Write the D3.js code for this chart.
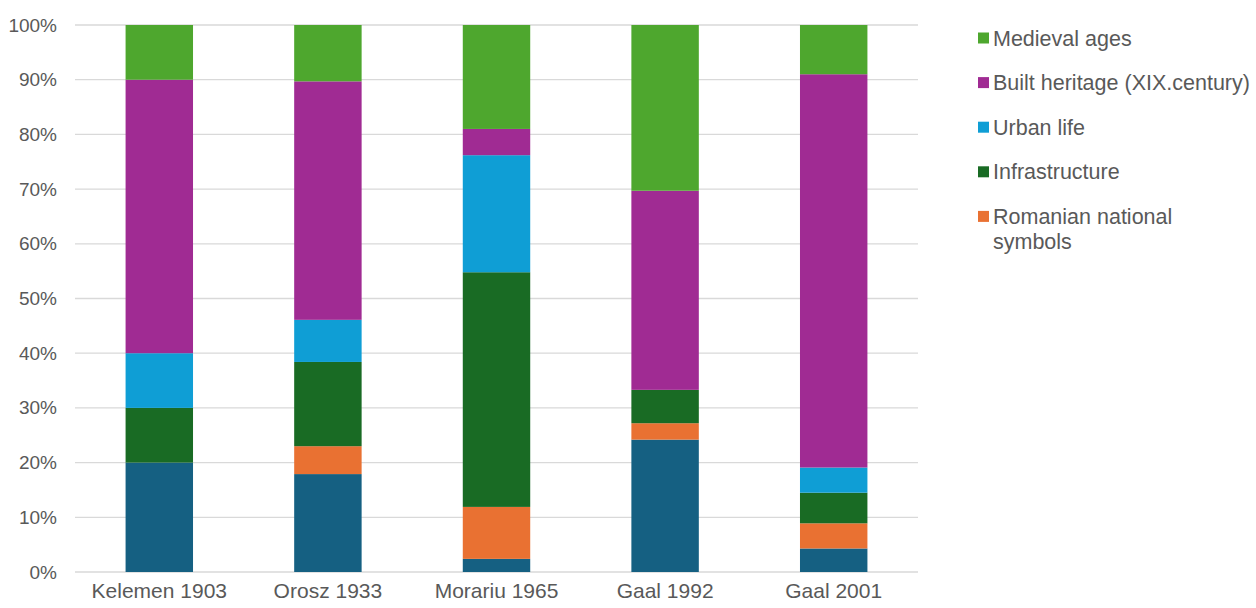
<!DOCTYPE html>
<html>
<head>
<meta charset="utf-8">
<script src="https://cdn.jsdelivr.net/npm/d3@7"></script>
<style>
  html, body { margin: 0; padding: 0; background: #fff; }
  svg { display: block; font-family: "Liberation Sans", Arial, sans-serif; }
</style>
</head>
<body>
<svg id="chart" width="1256" height="608"></svg>
<script>
const categories = ["Kelemen 1903", "Orosz 1933", "Morariu 1965", "Gaal 1992", "Gaal 2001"];
const seriesNames = ["Other", "Romanian national symbols", "Infrastructure", "Urban life", "Built heritage (XIX.century)", "Medieval ages"];
const other       = [20.0, 17.9, 2.4, 24.2, 4.3];
const romanian    = [0.0, 5.1, 9.5, 3.0, 4.6];
const infrastr    = [10.0, 15.4, 42.9, 6.1, 5.6];
const urbanLife   = [10.0, 7.7, 21.4, 0.0, 4.6];
const builtHerit  = [50.0, 43.6, 4.8, 36.4, 71.9];
const medieval    = [10.0, 10.3, 19.0, 30.3, 9.0];
const yTicks = [0, 10, 20, 30, 40, 50, 60, 70, 80, 90, 100];
const legendNames = ["Medieval ages", "Built heritage (XIX.century)", "Urban life", "Infrastructure", "Romanian national symbols"];

const colors = {
  "Other": "#156082",
  "Romanian national symbols": "#e97132",
  "Infrastructure": "#196b24",
  "Urban life": "#0f9ed5",
  "Built heritage (XIX.century)": "#a02b93",
  "Medieval ages": "#4ea72e"
};

const seriesArrays = [other, romanian, infrastr, urbanLife, builtHerit, medieval];
const rows = categories.map((c, i) => {
  const r = { cat: c };
  seriesNames.forEach((s, j) => r[s] = seriesArrays[j][i]);
  return r;
});
const stacked = d3.stack().keys(seriesNames)(rows);

const svg = d3.select("#chart");
const plotLeft = 75, plotRight = 918, plotTop = 25, plotBottom = 572;

const x = d3.scaleBand().domain(categories).range([plotLeft, plotRight]).paddingInner(0.6).paddingOuter(0.3);
const y = d3.scaleLinear().domain([0, 100]).range([plotBottom, plotTop]);

// gridlines
svg.append("g").selectAll("line").data(yTicks).join("line")
  .attr("x1", plotLeft).attr("x2", plotRight)
  .attr("y1", d => y(d)).attr("y2", d => y(d))
  .attr("stroke", "#d9d9d9").attr("stroke-width", 1.3);

// bars
svg.append("g").selectAll("g").data(stacked).join("g")
  .attr("fill", d => colors[d.key])
  .selectAll("rect").data(d => d).join("rect")
  .attr("x", d => x(d.data.cat))
  .attr("width", x.bandwidth())
  .attr("y", d => y(d[1]))
  .attr("height", d => Math.max(0, y(d[0]) - y(d[1])));

// y axis labels
const yAxis = d3.axisLeft(y).tickValues(yTicks).tickFormat(d => d + "%").tickSize(0).tickPadding(0);
const ya = svg.append("g").attr("transform", `translate(57,0)`).call(yAxis);
ya.select(".domain").remove();
ya.selectAll("text").attr("fill", "#595959").style("font-size", "19px")
  .style("font-family", "'Liberation Sans', Arial, sans-serif");

// x axis labels
const xAxis = d3.axisBottom(x).tickSize(0).tickPadding(0);
const xa = svg.append("g").attr("transform", `translate(0,${plotBottom + 11})`).call(xAxis);
xa.select(".domain").remove();
xa.selectAll("text").attr("fill", "#595959").style("font-size", "21px")
  .style("font-family", "'Liberation Sans', Arial, sans-serif");

// legend
const lg = svg.append("g");
legendNames.forEach((name, i) => {
  const yy = 38 + i * 44.6;
  lg.append("rect").attr("x", 978).attr("y", yy - 5.5).attr("width", 11).attr("height", 11).attr("fill", colors[name]);
  const t = lg.append("text").attr("x", 993).attr("y", yy).attr("dy", "0.35em")
    .attr("fill", "#595959").style("font-size", "21.5px");
  if (name === "Romanian national symbols") {
    t.append("tspan").attr("x", 993).text("Romanian national");
    t.append("tspan").attr("x", 993).attr("dy", "25px").text("symbols");
  } else {
    t.text(name);
  }
});
</script>
</body>
</html>
